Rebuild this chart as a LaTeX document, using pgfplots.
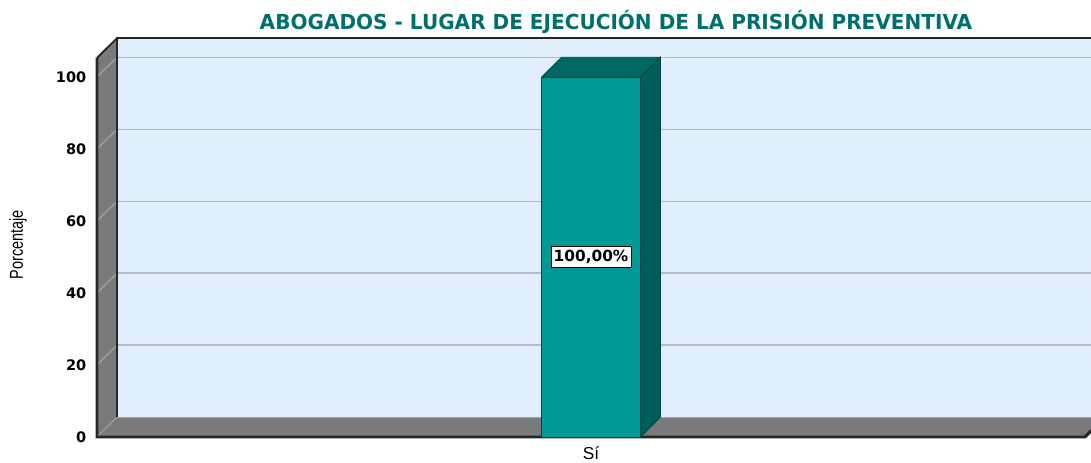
\documentclass[border=0pt]{standalone}
\usepackage{fontspec}
\setmainfont{Liberation Sans}
\newfontfamily\dvb{DejaVu Sans}
\newfontfamily\dvc[FakeStretch=0.97]{DejaVu Sans}
\newfontfamily\narrowfont[FakeStretch=0.776]{Liberation Sans}
\usepackage{pgfplots}
\pgfplotsset{compat=1.18}
\definecolor{bgblue}{RGB}{225,238,251}
\definecolor{gridc}{RGB}{178,186,196}
\definecolor{wallgray}{RGB}{122,122,122}
\definecolor{walldiag}{RGB}{165,165,165}
\definecolor{edgedark}{RGB}{38,38,38}
\definecolor{barfront}{RGB}{0,153,150}
\definecolor{bartop}{RGB}{0,104,100}
\definecolor{barside}{RGB}{0,94,90}
\definecolor{bardark}{RGB}{0,70,68}
\definecolor{titlec}{RGB}{0,112,110}
\begin{document}
\begin{tikzpicture}
\begin{axis}[name=ax, scale only axis, width=741pt, height=284.25pt,
  xmin=-0.5, xmax=0.5, ymin=0, ymax=105.3, clip=false,
  axis line style={draw=none}, major tick length=0pt,
  ytick={0,20,40,60,80,100}, xtick={0}, xticklabels={Sí},
  /pgf/number format/assume math mode=true,
  yticklabel style={font=\dvb\bfseries\fontsize{10.9}{12}\selectfont, xshift=-4.5pt},
  xticklabel style={font=\fontsize{13}{15}\selectfont, yshift=-3.8pt},
  ylabel={Porcentaje},
  ylabel style={at={(axis description cs:-0.08,0.507)}, anchor=center, font=\narrowfont\fontsize{14}{16}\selectfont},
]
% back wall
\addplot[fill=bgblue, draw=none] coordinates {(-0.4798,5.5) (0.53,5.5) (0.53,110.8) (-0.4798,110.8) (-0.4798,5.5)};
\addplot[gridc, line width=1.1pt] coordinates {(-0.4798,25.5) (0.53,25.5)};
\addplot[gridc, line width=1.1pt] coordinates {(-0.4798,45.5) (0.53,45.5)};
\addplot[gridc, line width=1.1pt] coordinates {(-0.4798,65.5) (0.53,65.5)};
\addplot[gridc, line width=1.1pt] coordinates {(-0.4798,85.5) (0.53,85.5)};
\addplot[gridc, line width=1.1pt] coordinates {(-0.4798,105.5) (0.53,105.5)};
% left wall
\addplot[fill=wallgray, draw=none] coordinates {(-0.5,0) (-0.5,105.3) (-0.4798,110.8) (-0.4798,5.5) (-0.5,0)};
\addplot[walldiag, line width=0.9pt] coordinates {(-0.5,20) (-0.4798,25.5)};
\addplot[walldiag, line width=0.9pt] coordinates {(-0.5,40) (-0.4798,45.5)};
\addplot[walldiag, line width=0.9pt] coordinates {(-0.5,60) (-0.4798,65.5)};
\addplot[walldiag, line width=0.9pt] coordinates {(-0.5,80) (-0.4798,85.5)};
\addplot[walldiag, line width=0.9pt] coordinates {(-0.5,100) (-0.4798,105.5)};
% floor
\addplot[fill=wallgray, draw=none] coordinates {(-0.5,0) (0.5,0) (0.5202,5.5) (-0.4798,5.5) (-0.5,0)};
\addplot[walldiag, line width=0.9pt] coordinates {(-0.4798,5.5) (0.53,5.5)};
\addplot[walldiag, line width=0.7pt] coordinates {(-0.5,0) (-0.4798,5.5)};
% edges
\addplot[edgedark, line width=1.4pt] coordinates {(-0.4798,5.5) (-0.4798,110.8) (0.53,110.8)};
\addplot[edgedark, line width=1.4pt] coordinates {(-0.5,105.3) (-0.4798,110.8)};
\addplot[edgedark, line width=2.2pt, line join=miter] coordinates {(-0.5,105.3) (-0.5,0) (0.5,0) (0.5202,5.5)};
% bar
\addplot[fill=barside, draw=bardark, line width=0.6pt] coordinates {(0.05,0) (0.0702,5.5) (0.0702,105.5) (0.05,100) (0.05,0)};
\addplot[fill=bartop, draw=bardark, line width=0.6pt] coordinates {(-0.05,100) (0.05,100) (0.0702,105.5) (-0.0298,105.5) (-0.05,100)};
\addplot[ybar, bar width=0.1, fill=barfront, draw=bardark, line width=0.6pt] coordinates {(0,100)};
\node[fill=white, draw=black, line width=0.6pt, inner xsep=2pt, inner ysep=2.8pt, font=\dvb\bfseries\fontsize{11.5}{13}\selectfont] at (axis cs:0,50) {100,00\%};
\end{axis}
\node[font=\dvc\bfseries\fontsize{15.5}{18}\selectfont, text=titlec] at ([shift={(389.25pt,311.25pt)}]ax.south west) {ABOGADOS - LUGAR DE EJECUCIÓN DE LA PRISIÓN PREVENTIVA};
\pgfresetboundingbox
\path[use as bounding box] ([shift={(-72.75pt,-19.5pt)}]ax.south west) rectangle ([shift={(745.5pt,327.75pt)}]ax.south west);
\end{tikzpicture}
\end{document}
